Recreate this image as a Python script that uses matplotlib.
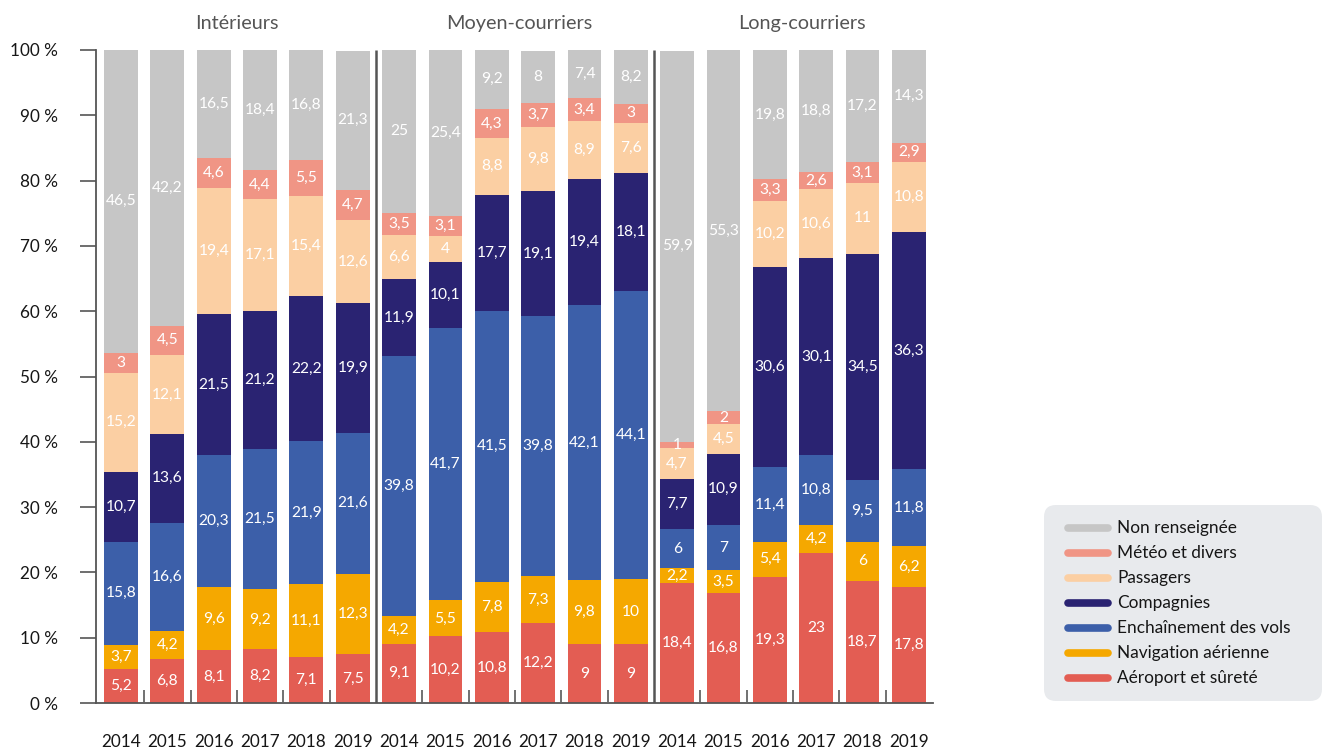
import numpy as np
import matplotlib
matplotlib.use("Agg")
import matplotlib.pyplot as plt
from matplotlib.patches import FancyBboxPatch
from matplotlib.lines import Line2D

plt.rcParams['font.family'] = ['Lato', 'DejaVu Sans']

groups = ["Intérieurs", "Moyen-courriers", "Long-courriers"]
years = ["2014", "2015", "2016", "2017", "2018", "2019"]

# Causes, stacked from the bottom up
causes = ["Aéroport et sûreté", "Navigation aérienne", "Enchaînement des vols",
          "Compagnies", "Passagers", "Météo et divers", "Non renseignée"]
colors = ["#e35d53", "#f5a800", "#3c5fa9", "#2a2372", "#fbcfa3", "#f09585", "#c6c6c6"]

# Shares (%) per bar: Intérieurs 2014-2019, Moyen-courriers 2014-2019, Long-courriers 2014-2019
aeroport = [5.2, 6.8, 8.1, 8.2, 7.1, 7.5,
            9.1, 10.2, 10.8, 12.2, 9, 9,
            18.4, 16.8, 19.3, 23, 18.7, 17.8]
navigation = [3.7, 4.2, 9.6, 9.2, 11.1, 12.3,
              4.2, 5.5, 7.8, 7.3, 9.8, 10,
              2.2, 3.5, 5.4, 4.2, 6, 6.2]
enchainement = [15.8, 16.6, 20.3, 21.5, 21.9, 21.6,
                39.8, 41.7, 41.5, 39.8, 42.1, 44.1,
                6, 7, 11.4, 10.8, 9.5, 11.8]
compagnies = [10.7, 13.6, 21.5, 21.2, 22.2, 19.9,
              11.9, 10.1, 17.7, 19.1, 19.4, 18.1,
              7.7, 10.9, 30.6, 30.1, 34.5, 36.3]
passagers = [15.2, 12.1, 19.4, 17.1, 15.4, 12.6,
             6.6, 4, 8.8, 9.8, 8.9, 7.6,
             4.7, 4.5, 10.2, 10.6, 11, 10.8]
meteo = [3, 4.5, 4.6, 4.4, 5.5, 4.7,
         3.5, 3.1, 4.3, 3.7, 3.4, 3,
         1, 2, 3.3, 2.6, 3.1, 2.9]
non_renseignee = [46.5, 42.2, 16.5, 18.4, 16.8, 21.3,
                  25, 25.4, 9.2, 8, 7.4, 8.2,
                  59.9, 55.3, 19.8, 18.8, 17.2, 14.3]

series = [aeroport, navigation, enchainement, compagnies, passagers, meteo, non_renseignee]

W, H = 1326, 748
fig = plt.figure(figsize=(W / 100, H / 100), dpi=100)
ax = fig.add_axes([96 / W, 45 / H, (933 - 96) / W, 653 / H])

n = len(years) * len(groups)
x = np.arange(n)
bottom = np.zeros(n)
for vals, col in zip(series, colors):
    vals = np.array(vals, dtype=float)
    ax.bar(x, vals, width=0.73, bottom=bottom, color=col, linewidth=0, zorder=2)
    for xi, b, v in zip(x, bottom, vals):
        ax.text(xi, b + v / 2, f"{v:g}".replace(".", ","), ha="center", va="center",
                color="white", fontsize=11.2, zorder=3)
    bottom += vals

ax.set_xlim(-0.54, 17.52)
ax.set_ylim(0, 100)

axis_col = "#555555"
for s in ["top", "right"]:
    ax.spines[s].set_visible(False)
ax.spines["left"].set_color(axis_col)
ax.spines["bottom"].set_color(axis_col)
ax.spines["left"].set_linewidth(1.3)
ax.spines["bottom"].set_linewidth(1.3)

ax.set_yticks(np.arange(0, 101, 10))
ax.set_yticklabels([f"{v} %" for v in range(0, 101, 10)])
ax.tick_params(axis="y", length=11.5, width=1.2, color=axis_col, pad=16,
               labelsize=12.3, labelcolor="#161616")
ax.set_xticks(x)
ax.set_xticklabels(years * len(groups))
ax.tick_params(axis="x", length=0, pad=22, labelsize=12.3, labelcolor="#161616")

# Group separators and small dividers between bars
seps = [len(years) * (g + 1) - 0.5 for g in range(len(groups) - 1)]
ax.vlines(seps, 0, 100, color=axis_col, lw=1.8, zorder=4)
dividers = [i + 0.5 for i in range(n - 1) if (i + 0.5) not in seps]
ax.vlines(dividers, 0, 2, color="#666666", lw=1.3, zorder=4)

# Group titles
title_x = [2.5, 8.6, 14.7]
for gx, name in zip(title_x, groups):
    ax.text(gx, 104.0, name, ha="center", va="center", fontsize=14.3,
            color="#555555", clip_on=False)

# Legend panel
lax = fig.add_axes([1044 / W, (H - 701) / H, 278 / W, 196 / H])
lax.set_xlim(0, 278)
lax.set_ylim(196, 0)
lax.axis("off")
lax.add_patch(FancyBboxPatch((0, 0), 278, 196,
                             boxstyle="round,pad=0,rounding_size=12",
                             facecolor="#e8eaed", edgecolor="none"))
for k, (name, col) in enumerate(zip(causes[::-1], colors[::-1])):
    yy = 23 + k * 25
    lax.add_line(Line2D([24, 64], [yy, yy], color=col, lw=5.5, solid_capstyle="round"))
    lax.text(73, yy, name, ha="left", va="center", fontsize=12.4, color="#161616")

fig.savefig("out.png", dpi=100)
